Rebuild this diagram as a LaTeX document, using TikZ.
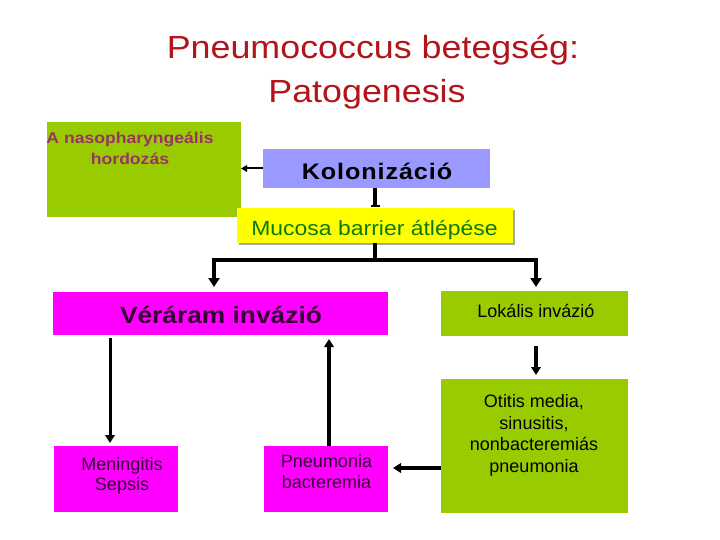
\documentclass[tikz,border=0pt]{standalone}
\usepackage{fontspec}
\setmainfont{Liberation Sans}
\newfontfamily\widefont[FakeStretch=1.12]{Liberation Sans}
\newfontfamily\spacedfont[FakeStretch=1.12,LetterSpace=4]{Liberation Sans}
\usetikzlibrary{arrows.meta,shadows}
\definecolor{lgreen}{HTML}{99CC00}
\definecolor{lav}{HTML}{9999FF}
\definecolor{yel}{HTML}{FFFF00}
\definecolor{mag}{HTML}{FF00FF}
\definecolor{titlered}{HTML}{B3141A}
\definecolor{purp}{HTML}{993366}
\definecolor{dgreen}{HTML}{0A7A0A}
\definecolor{dpurp}{HTML}{330033}
\begin{document}
\begin{tikzpicture}[x=1pt,y=-1pt,
  box/.style={rectangle, inner sep=0pt, outer sep=0pt, anchor=north west},
  txt/.style={inner sep=0pt, outer sep=0pt, anchor=base},
  conn/.style={line width=3.5pt, -{Triangle[length=9pt,width=11pt]}},
  thinconn/.style={line width=3.2pt, -{Triangle[length=8pt,width=9.5pt]}},
 ]
\useasboundingbox[fill=white] (0,0) rectangle (720,540);

% title
\node[txt, font=\widefont\fontsize{32}{36}\selectfont, text=titlered] (t1) at (373,59) {Pneumococcus betegség:};
\node[txt, font=\widefont\fontsize{32}{36}\selectfont, text=titlered] (t2) at (367,103) {Patogenesis};

% boxes
\node[box, fill=lgreen, minimum width=194pt, minimum height=95pt] (carry) at (47,122) {};
\node[box, fill=lav, minimum width=227pt, minimum height=39pt] (kol) at (263,149) {};
\node[box, fill=yel, minimum width=276pt, minimum height=35pt,
      drop shadow={shadow xshift=2pt,shadow yshift=-2pt,fill=gray!70,opacity=1}] (muc) at (237,208) {};
\node[box, fill=mag, minimum width=335pt, minimum height=43pt] (ver) at (53,292) {};
\node[box, fill=lgreen, minimum width=187pt, minimum height=45pt] (lok) at (441,291) {};
\node[box, fill=lgreen, minimum width=187pt, minimum height=134pt] (oti) at (441,379) {};
\node[box, fill=mag, minimum width=124pt, minimum height=66pt] (men) at (54,446) {};
\node[box, fill=mag, minimum width=124pt, minimum height=66pt] (pne) at (264,446) {};

% texts
\node[txt, font=\widefont\bfseries\fontsize{15.7}{20}\selectfont, text=purp] (carry1) at (130,144) {A nasopharyngeális};
\node[txt, font=\widefont\bfseries\fontsize{15.7}{20}\selectfont, text=purp] (carry2) at (130,165) {hordozás};
\node[txt, font=\spacedfont\bfseries\fontsize{22.5}{26}\selectfont] (koltxt) at (377,180) {Kolonizáció};
\node[txt, font=\widefont\fontsize{20.5}{24}\selectfont, text=dgreen] (muctxt) at (374.5,236) {Mucosa barrier átlépése};
\node[txt, font=\widefont\bfseries\fontsize{23.5}{28}\selectfont, text=dpurp] (vertxt) at (221,323) {Véráram invázió};
\node[txt, font=\fontsize{18}{21}\selectfont] (loktxt) at (536,317) {Lokális invázió};
\node[txt, font=\fontsize{18}{21}\selectfont] (oti1) at (534,407) {Otitis media,};
\node[txt, font=\fontsize{18}{21}\selectfont] (oti2) at (534,429) {sinusitis,};
\node[txt, font=\fontsize{18}{21}\selectfont] (oti3) at (534,450.5) {nonbacteremiás};
\node[txt, font=\fontsize{18}{21}\selectfont] (oti4) at (534,472) {pneumonia};
\node[txt, font=\fontsize{18}{21}\selectfont, text=dpurp] (men1) at (122,470) {Meningitis};
\node[txt, font=\fontsize{18}{21}\selectfont, text=dpurp] (men2) at (122,490) {Sepsis};
\node[txt, font=\fontsize{18}{21}\selectfont, text=dpurp] (pne1) at (326.5,467) {Pneumonia};
\node[txt, font=\fontsize{18}{21}\selectfont, text=dpurp] (pne2) at (326.5,488) {bacteremia};

% connectors
\draw[line width=2pt, -{Triangle[length=6pt,width=6.5pt]}] (kol.west) -- (kol.west -| carry.east);
\draw[line width=3.3pt, -{Bar[width=9pt,line width=2pt]}] (muc.north |- kol.south) -- ([yshift=1pt]muc.north);

\coordinate (j) at ([yshift=-17pt]muc.south);
\coordinate (vl) at ([xshift=-6.5pt,yshift=5pt]ver.north);
\coordinate (lr) at ([xshift=1.5pt,yshift=4pt]lok.north);
\draw[conn] (muc.south) -- (j) -| (vl);
\draw[conn] (j) -| (lr);

\coordinate (mtop) at ([xshift=-6pt,yshift=3pt]men.north);
\coordinate (mbot) at ([yshift=-3pt]ver.south);
\draw[thinconn, line width=3pt] (mbot -| mtop) -- (mtop);

\coordinate (ptop) at ([xshift=3pt]pne.north);
\draw[thinconn, line width=3.4pt, shorten >=4pt] (ptop) -- (ptop |- ver.south);

\draw[thinconn, line width=3.4pt, shorten <=10pt, shorten >=4pt] (lok.south -| lr) -- (oti.north -| lr);

\coordinate (oa) at ([yshift=-22pt]oti.west);
\draw[thinconn, line width=3.4pt, shorten >=5pt] (oa) -- (oa -| pne.east);
\end{tikzpicture}
\end{document}
